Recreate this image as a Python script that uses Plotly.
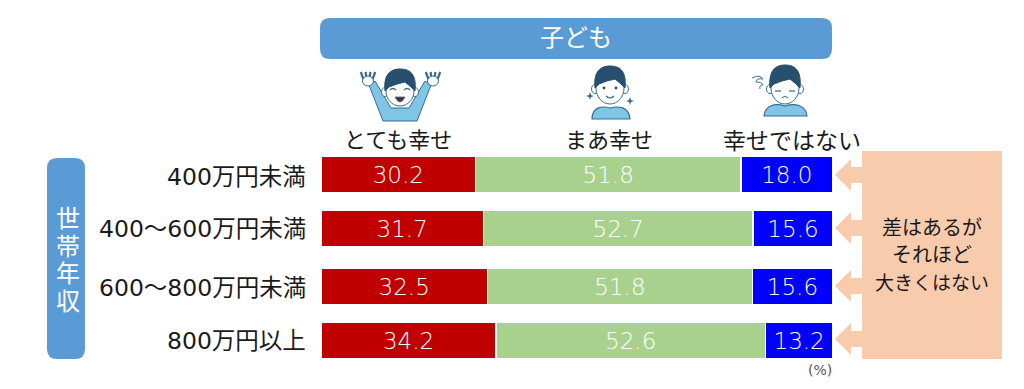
import plotly.graph_objects as go

categories = ["400万円未満", "400～600万円未満", "600～800万円未満", "800万円以上"]
series_names = ["とても幸せ", "まあ幸せ", "幸せではない"]
very_happy = [30.2, 31.7, 32.5, 34.2]
fairly_happy = [51.8, 52.7, 51.8, 52.6]
not_happy = [18.0, 15.6, 15.6, 13.2]
row_positions = [0, 0.976, 2.024, 3]
colors = ["#C00000", "#A9D18E", "#0000FF"]

W, H = 1024, 389
FONT = "DejaVu Sans, Noto Sans CJK JP"
VALUE_FONT = "DejaVu Sans Light, DejaVu Sans"
INK = "#1a1a1a"
BLUE = "#5B9BD5"
PEACH = "#F8CBAD"
HAIR = "#274F6E"
LINE = "#3A6A8A"
SHIRT = "#7FC5E8"


def px(x):
    return x / W


def py(y):
    return 1 - y / H


def path(*cmds):
    out = []
    for c in cmds:
        letter, pts = c[0], c[1:]
        out.append(letter + " ".join(f"{px(a):.5f},{py(b):.5f}" for a, b in pts))
    return " ".join(out)


def poly(pts):
    return path(("M", pts[0]), *[("L", p) for p in pts[1:]], ("Z",))


def ellipse(cx, cy, rx, ry):
    k = 0.5523
    return path(
        ("M", (cx - rx, cy)),
        ("C", (cx - rx, cy - k * ry), (cx - k * rx, cy - ry), (cx, cy - ry)),
        ("C", (cx + k * rx, cy - ry), (cx + rx, cy - k * ry), (cx + rx, cy)),
        ("C", (cx + rx, cy + k * ry), (cx + k * rx, cy + ry), (cx, cy + ry)),
        ("C", (cx - k * rx, cy + ry), (cx - rx, cy + k * ry), (cx - rx, cy)),
        ("Z",),
    )


def rrect(x0, y0, x1, y1, r):
    return path(
        ("M", (x0 + r, y0)),
        ("L", (x1 - r, y0)),
        ("Q", (x1, y0), (x1, y0 + r)),
        ("L", (x1, y1 - r)),
        ("Q", (x1, y1), (x1 - r, y1)),
        ("L", (x0 + r, y1)),
        ("Q", (x0, y1), (x0, y1 - r)),
        ("L", (x0, y0 + r)),
        ("Q", (x0, y0), (x0 + r, y0)),
        ("Z",),
    )


shapes = []


def add(d, fill=None, line=None, lw=1):
    shapes.append(dict(
        type="path", xref="paper", yref="paper", path=d, layer="above",
        fillcolor=fill if fill else "rgba(0,0,0,0)",
        line=dict(color=line if line else "rgba(0,0,0,0)", width=lw if line else 0),
    ))


annotations = []


def text(x, y, s, size, color=INK, anchor="center"):
    annotations.append(dict(
        x=px(x), y=py(y + 1), xref="paper", yref="paper", text=s, showarrow=False,
        xanchor=anchor, yanchor="middle", font=dict(family=FONT, size=size, color=color),
    ))


def head(cx, cy, rx, ry, top):
    add(ellipse(cx - rx - 1, cy + 3, 3.5, 4.5), "#ffffff", LINE, 1)
    add(ellipse(cx + rx + 1, cy + 3, 3.5, 4.5), "#ffffff", LINE, 1)
    add(ellipse(cx, cy + 2, rx, ry), "#ffffff", LINE, 1)
    add(path(
        ("M", (cx - rx - 1, cy + 2)),
        ("C", (cx - rx - 3, top + 2), (cx - 6, top), (cx, top)),
        ("C", (cx + 8, top), (cx + rx + 3, top + 3), (cx + rx + 1, cy + 2)),
        ("L", (cx + rx - 3, cy - 2)),
        ("L", (cx + 5, cy - 7)),
        ("L", (cx - 3, cy - 5)),
        ("L", (cx - rx + 3, cy - 2)),
        ("Z",),
    ), HAIR, HAIR, 1)


def hand(cx, cy, flip):
    for dx in (-6, -2, 2, 6):
        d = dx * flip
        add(path(("M", (cx + d * 0.7, cy + 1)), ("L", (cx + d * 1.2, cy - 7))), None, LINE, 2.2)
    add(ellipse(cx, cy + 2, 5.5, 5), "#ffffff", LINE, 1)


# Boy 1: arms up
add(poly([(369, 85), (375, 81), (391, 108), (409, 108), (425, 81), (431, 85),
          (417, 121), (383, 121)]), SHIRT, LINE, 1)
hand(368, 79, -1)
hand(433, 79, 1)
head(400, 89, 14, 15, 69)
add(path(("M", (390, 90)), ("Q", (393, 87), (396, 90))), None, LINE, 1.2)
add(path(("M", (404, 90)), ("Q", (407, 87), (410, 90))), None, LINE, 1.2)
add(path(("M", (395, 97)), ("Q", (400, 107), (405, 97)), ("Z",)), "#5a3030", LINE, 0.8)

# Boy 2: smile with sparkles
add(path(("M", (592, 119)), ("C", (592, 106), (603, 106), (610, 108)),
         ("C", (618, 106), (629, 106), (630, 119)), ("Z",)), SHIRT, LINE, 1.2)
head(610, 86, 14, 16, 66)
add(ellipse(604, 88, 1.4, 1.4), HAIR)
add(ellipse(616, 88, 1.4, 1.4), HAIR)
add(path(("M", (606, 96)), ("Q", (610, 100), (614, 96))), None, LINE, 1.2)
for sx, sy in ((590, 96), (630, 101)):
    add(poly([(sx, sy - 4), (sx + 1, sy - 1), (sx + 4, sy), (sx + 1, sy + 1),
              (sx, sy + 4), (sx - 1, sy + 1), (sx - 4, sy), (sx - 1, sy - 1)]), LINE)

# Boy 3: downcast with swirl
add(path(("M", (764, 116)), ("C", (765, 105), (775, 103), (785, 106)),
         ("C", (795, 103), (806, 105), (807, 116)), ("Z",)), SHIRT, LINE, 1.2)
head(785, 86, 14, 16, 65)
add(path(("M", (775, 91)), ("L", (781, 91))), None, LINE, 1.2)
add(path(("M", (789, 91)), ("L", (795, 91))), None, LINE, 1.2)
add(path(("M", (782, 98)), ("Q", (785, 95), (788, 98))), None, LINE, 1.1)
add(path(("M", (752, 78)), ("Q", (760, 74), (763, 79)), ("Q", (756, 78), (756, 82)),
         ("Q", (762, 82), (763, 85)), ("Q", (759, 85), (760, 89))), None, LINE, 1)

# Header band and row-group band
add(rrect(320, 18, 832, 59, 10), BLUE)
add(rrect(47, 158, 85, 359, 10), BLUE)
text(576, 37, "子ども", 24, "#ffffff")
for i, ch in enumerate("世帯年収"):
    text(68, 218 + i * 27.5, ch, 24, "#ffffff")

# Series names
text(398, 140, series_names[0], 22)
text(609, 140, series_names[1], 22)
text(792, 140, series_names[2], 23)

# Row labels
row_label_y = [176, 228, 287, 340]
for label, y in zip(categories, row_label_y):
    text(308, y, label, 23.5, anchor="right")

# Callout box and arrows
add(poly([(862, 151), (1002, 151), (1002, 359), (862, 359)]), PEACH)
for y in (175, 228, 286, 339):
    add(poly([(835, y), (851, y - 16), (851, y - 8), (863, y - 8),
              (863, y + 8), (851, y + 8), (851, y + 16)]), PEACH)
for y, s, size in zip((227, 254, 282), ("差はあるが", "それほど", "大きくはない"), (20, 20, 19)):
    text(932, y, s, size)
text(820, 369, "(%)", 14, "#555555")

fig = go.Figure()
for name, vals, col in zip(series_names, (very_happy, fairly_happy, not_happy), colors):
    fig.add_trace(go.Bar(
        name=name, x=vals, y=row_positions, orientation="h", width=0.669,
        marker=dict(color=col, line=dict(color="#ffffff", width=1.5)),
        text=[f"{v:.1f}" for v in vals], textposition="inside",
        insidetextanchor="middle", textangle=0, cliponaxis=False,
        insidetextfont=dict(family=VALUE_FONT, size=23, color="#ffffff"),
        hoverinfo="x+name",
    ))

fig.update_layout(
    width=W, height=H, autosize=False, barmode="stack", showlegend=False,
    margin=dict(l=0, r=0, t=0, b=0), paper_bgcolor="#ffffff", plot_bgcolor="#ffffff",
    xaxis=dict(domain=[px(321), px(833)], range=[0, 100.02], visible=False),
    yaxis=dict(domain=[py(368.17), py(146.83)], range=[3.5, -0.5], visible=False),
    shapes=shapes, annotations=annotations,
)
fig.write_html(
    "out.html",
    config={"displayModeBar": False},
    post_script="document.body.style.margin='0';document.body.style.overflow='hidden';",
)
